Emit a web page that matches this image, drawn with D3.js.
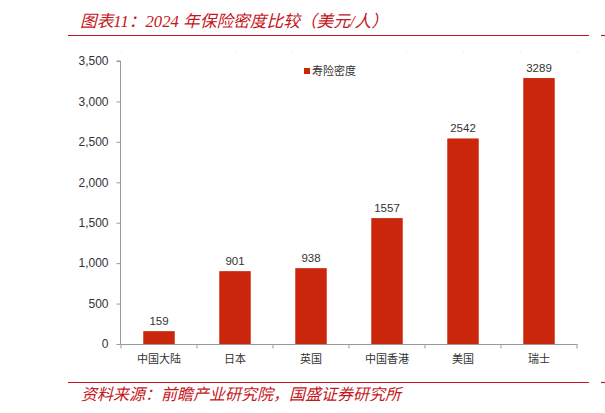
<!DOCTYPE html>
<html><head><meta charset="utf-8">
<script src="https://cdn.jsdelivr.net/npm/d3@7"></script>
<style>
html,body{margin:0;padding:0;background:#fff;}
svg{display:block;}
</style></head>
<body><svg id="c" width="605" height="413"></svg>
<script>
const categories = ["中国大陆","日本","英国","中国香港","美国","瑞士"];
const values = [159, 901, 938, 1557, 2542, 3289];
const yTicks = [0, 500, 1000, 1500, 2000, 2500, 3000, 3500];
const seriesName = "寿险密度";
const titleText = "图表11：2024 年保险密度比较（美元/人）";
const sourceText = "资料来源：前瞻产业研究院，国盛证券研究所";

const svg = d3.select("#c");
const red = "#c4161c";
const barColor = "#c9260c";
const sans = "'Liberation Sans','Noto Sans CJK SC',sans-serif";
const cjk = "'Noto Sans CJK SC','Liberation Sans',sans-serif";

const x = d3.scaleBand().domain(categories).range([121, 577])
  .paddingInner(0.586).paddingOuter(0.293);
const y = d3.scaleLinear().domain([0, 3500]).range([344, 61]);

// title
svg.append("text").attr("x", 80).attr("y", 27)
  .attr("font-family", "'Liberation Serif','Noto Sans CJK SC',serif")
  .attr("font-style", "italic").attr("font-size", 16.7).attr("fill", red)
  .text(titleText);
svg.append("line").attr("x1", 68).attr("x2", 589).attr("y1", 35.5).attr("y2", 35.5)
  .attr("stroke", red).attr("stroke-width", 1.2);
svg.append("line").attr("x1", 601).attr("x2", 605).attr("y1", 35.5).attr("y2", 35.5)
  .attr("stroke", red).attr("stroke-width", 1.2);

// faint plot border (top & right)
svg.append("line").attr("x1", 121).attr("x2", 578).attr("y1", 52.5).attr("y2", 52.5)
  .attr("stroke", "#e4e4e4").attr("stroke-dasharray", "1,56");
svg.append("line").attr("x1", 578.5).attr("x2", 578.5).attr("y1", 52).attr("y2", 344)
  .attr("stroke", "#eeeeee").attr("stroke-dasharray", "1,14");

// y axis
const yAxis = svg.append("g").attr("transform", "translate(120.5,0)")
  .call(d3.axisLeft(y).tickValues(yTicks).tickSize(4).tickPadding(8)
    .tickFormat(d3.format(",")));
yAxis.select(".domain").attr("stroke", "#999").attr("d", "M-4," + y(3500) + "H0V" + y(0));
yAxis.selectAll(".tick line").attr("stroke", "#999");
yAxis.selectAll(".tick text").attr("font-family", sans).attr("font-size", 12).attr("fill", "#333");

// x axis
const bounds = d3.range(categories.length + 1).map(i => 121 + i * x.step());
svg.append("line").attr("x1", 120.5).attr("x2", 577.5).attr("y1", 344.5).attr("y2", 344.5)
  .attr("stroke", "#999");
svg.selectAll(".xt").data(bounds).join("line").attr("class", "xt")
  .attr("x1", d => d).attr("x2", d => d).attr("y1", 344.5).attr("y2", 348.5)
  .attr("stroke", "#999");
svg.selectAll(".xl").data(categories).join("text").attr("class", "xl")
  .attr("x", d => x(d) + x.bandwidth() / 2).attr("y", 363)
  .attr("text-anchor", "middle").attr("font-family", cjk).attr("font-size", 11)
  .attr("fill", "#333").text(d => d);

// bars
svg.selectAll(".bar").data(values).join("rect").attr("class", "bar")
  .attr("x", (d, i) => x(categories[i])).attr("width", x.bandwidth())
  .attr("y", d => y(d)).attr("height", d => y(0) - y(d))
  .attr("fill", barColor);
svg.selectAll(".vl").data(values).join("text").attr("class", "vl")
  .attr("x", (d, i) => x(categories[i]) + x.bandwidth() / 2)
  .attr("y", d => y(d) - 6).attr("text-anchor", "middle")
  .attr("font-family", sans).attr("font-size", 11.5).attr("fill", "#333")
  .text(d => d);

// legend
svg.append("rect").attr("x", 304).attr("y", 68).attr("width", 6).attr("height", 6)
  .attr("fill", barColor);
svg.append("text").attr("x", 312).attr("y", 75).attr("font-family", cjk)
  .attr("font-size", 11).attr("fill", "#333").text(seriesName);

// footer
svg.append("line").attr("x1", 68).attr("x2", 589).attr("y1", 382.5).attr("y2", 382.5)
  .attr("stroke", red).attr("stroke-width", 1.2);
svg.append("line").attr("x1", 601).attr("x2", 605).attr("y1", 382.5).attr("y2", 382.5)
  .attr("stroke", red).attr("stroke-width", 1.2);
svg.append("text").attr("x", 81).attr("y", 400)
  .attr("font-family", cjk).attr("font-style", "italic").attr("font-size", 16)
  .attr("fill", red).text(sourceText);
</script></body></html>
